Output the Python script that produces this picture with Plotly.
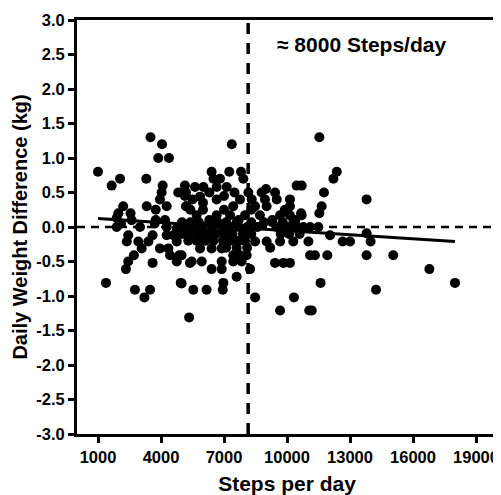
import plotly.graph_objects as go

# ---- data ----
steps = [
    1000, 1650, 2050, 3300, 3500, 4050, 3870, 4380,
    2200, 1970, 2550, 1890, 3320, 3750, 3750, 3700, 3950, 4030, 4080, 4270, 4820, 5140, 5190, 5190, 4190,
    2100, 2600, 3000,
    1890, 2440, 2370, 2920, 3600, 3400, 3080, 2710, 2440, 2330, 3600, 1380, 2760, 3480, 3210, 3950, 4350,
    4430, 4750, 4870, 4940, 5380, 5340, 4270, 4590, 4750, 4270, 4750,
    7370, 6410, 7250, 7810, 7920, 6810, 6500, 10460, 5620, 6020, 6650, 7130, 8160, 8790, 9430, 5140, 5860,
    6650, 7760, 8320, 8950, 9510, 10140, 5220, 7440, 8480, 9030, 10140, 5700, 6650, 7290, 8000, 8710, 9670,
    10140, 10700,
    11540, 12370, 12210, 11760, 13790, 11650, 11540, 10700, 10670, 10780, 11100, 11490,
    5860, 6410, 6890, 4980, 5460, 5940, 6410, 6890, 6890, 7440, 7840, 8240, 7600, 4980, 6970, 5540, 6170,
    6940, 8480, 10330, 9670, 11060, 9430, 9830, 10140, 7760, 8080, 11100, 7440, 8480, 9030, 9670, 10300,
    11020, 12050, 12650, 13000, 13790, 13980, 11330, 11920, 13790, 15060, 16780, 11600, 14240, 18000, 11180,
    5000, 5400, 5800, 6300, 6700, 7100, 7600, 8300, 8900, 9300, 9800, 10300,
    5200, 5600, 6000, 6450, 6900, 7300, 7700, 8100, 8600, 9500, 9900, 10200, 10500,
    5000, 5400, 5800, 6200, 6600, 7000, 7400, 7900, 8300, 9700, 10100, 10600,
    5300, 5700, 6100, 6500, 6950, 7300, 7700, 8000,
    7100, 7600, 8100, 9200,
    5400, 6000, 6300, 7000, 7700, 8300, 9300, 9900, 10400,
    6000, 6300, 7000, 7500, 9000, 5500,
]
weight_diff = [
    0.8, 0.6, 0.7, 0.7, 1.3, 1.2, 1.0, 1.0,
    0.3, 0.2, 0.2, 0.13, 0.3, 0.25, 0.1, 0.05, 0.4, 0.5, 0.6, 0.3, 0.5, 0.6, 0.5, 0.3, 0.1,
    0.05, 0.1, 0.0,
    0.0, -0.12, -0.21, -0.21, -0.12, -0.21, -0.31, -0.41, -0.5, -0.61, -0.52, -0.81, -0.91, -0.91, -1.02, -0.31, -0.31,
    -0.41, -0.5, -0.41, -0.81, -0.52, -1.31, -0.12, -0.12, -0.21, 0.0, -0.02,
    1.2, 0.8, 0.8, 0.8, 0.7, 0.7, 0.7, 0.6, 0.58, 0.58, 0.58, 0.58, 0.5, 0.5, 0.5, 0.45, 0.44,
    0.4, 0.4, 0.4, 0.4, 0.4, 0.4, 0.3, 0.3, 0.3, 0.3, 0.3, 0.17, 0.17, 0.17, 0.17, 0.17, 0.17,
    0.17, 0.17,
    1.3, 0.8, 0.7, 0.5, 0.4, 0.3, 0.2, 0.6, 0.2, 0.0, 0.0, 0.0,
    -0.31, -0.31, -0.31, -0.41, -0.5, -0.5, -0.61, -0.61, -0.5, -0.5, -0.5, -0.61, -0.72, -0.82, -0.81, -0.91, -0.91,
    -0.91, -1.02, -1.02, -1.21, -1.21, -0.52, -0.52, -0.52, -0.41, -0.41, -0.41, -0.41, -0.21, -0.21, -0.21, -0.21,
    -0.21, -0.12, -0.21, -0.21, -0.09, -0.21, -0.41, -0.41, -0.41, -0.41, -0.61, -0.81, -0.91, -0.81, -1.21,
    0.07, 0.07, 0.07, 0.07, 0.07, 0.07, 0.07, 0.07, 0.07, 0.07, 0.07, 0.07,
    0.0, 0.0, 0.0, 0.0, 0.0, 0.0, 0.0, 0.0, 0.0, 0.0, 0.0, 0.0, 0.0,
    -0.1, -0.1, -0.1, -0.1, -0.1, -0.1, -0.1, -0.1, -0.1, -0.1, -0.1, -0.1,
    -0.2, -0.2, -0.2, -0.2, -0.2, -0.2, -0.2, -0.2,
    -0.3, -0.3, -0.3, -0.3,
    0.25, 0.25, 0.1, 0.25, 0.1, 0.25, 0.1, 0.25, 0.1,
    0.35, 0.5, 0.45, 0.5, 0.55, 0.4,
]

trend_x = [1000, 18000]
trend_y = [0.125, -0.21]

threshold_steps = 8150
annotation_text = "≈ 8000 Steps/day"

x_tickvals = [1000, 4000, 7000, 10000, 13000, 16000, 19000]
x_ticktext = ["1000", "4000", "7000", "10000", "13000", "16000", "19000"]
y_tickvals = [3.0, 2.5, 2.0, 1.5, 1.0, 0.5, 0.0, -0.5, -1.0, -1.5, -2.0, -2.5, -3.0]
y_ticktext = ["3.0", "2.5", "2.0", "1.5", "1.0", "0.5", "0.0", "-0.5", "-1.0", "-1.5", "-2.0", "-2.5", "-3.0"]

FONT = "Liberation Sans, Arial, sans-serif"

fig = go.Figure()
fig.add_trace(go.Scatter(
    x=steps, y=weight_diff, mode="markers",
    marker=dict(color="black", size=10, line=dict(width=0)),
    showlegend=False, cliponaxis=False,
))
fig.add_trace(go.Scatter(
    x=trend_x, y=trend_y, mode="lines",
    line=dict(color="black", width=3), showlegend=False,
))

fig.add_shape(type="line", xref="x", yref="paper", x0=threshold_steps, x1=threshold_steps,
              y0=0, y1=1, line=dict(color="black", width=3.5, dash="11px,9px"))
fig.add_shape(type="line", xref="paper", yref="y", x0=0, x1=1, y0=0, y1=0,
              line=dict(color="black", width=2.5, dash="8px,6px"))

fig.add_annotation(x=9430, y=2.64, text=annotation_text, showarrow=False,
                   xanchor="left", yanchor="middle",
                   font=dict(family=FONT, size=21, color="black", weight="bold"))

axis_common = dict(showline=True, linewidth=3, linecolor="black", mirror=True,
                   ticks="outside", ticklen=6, tickwidth=3, tickcolor="black",
                   showgrid=False, zeroline=False, automargin=False,
                   tickfont=dict(family=FONT, size=16.5, color="black", weight="bold"))

# the page body adds an 8px offset, so the figure is 8px smaller than the window
fig.update_layout(
    width=493, height=487,
    margin=dict(l=69, r=4, t=12, b=61),
    paper_bgcolor="white", plot_bgcolor="white",
    font=dict(family=FONT, color="black", weight="bold"),
    xaxis=dict(range=[0, 20000], tickvals=x_tickvals, ticktext=x_ticktext,
               title=dict(text="Steps per day", standoff=12,
                          font=dict(family=FONT, size=21, color="black", weight="bold")),
               **axis_common),
    yaxis=dict(range=[-3, 3], tickvals=y_tickvals, ticktext=y_ticktext,
               title=dict(text="Daily Weight Difference (kg)", standoff=4,
                          font=dict(family=FONT, size=20, color="black", weight="bold")),
               **axis_common),
)

fig.write_html("out.html")
